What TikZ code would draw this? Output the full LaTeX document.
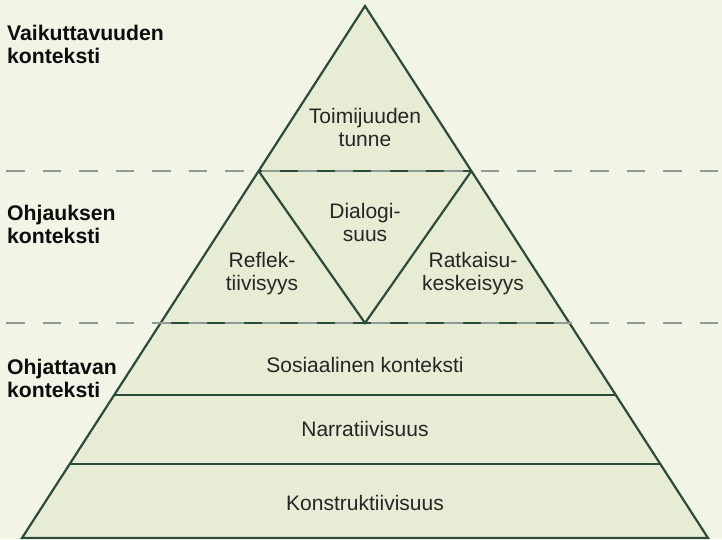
\documentclass[tikz,border=0pt]{standalone}
\usepackage{fontspec}
\setmainfont{Liberation Sans}
\usetikzlibrary{calc}

\definecolor{tausta}{HTML}{F2F4E6}
\definecolor{pinta}{HTML}{E7EDD4}
\definecolor{viiva}{HTML}{2B4B3B}
\definecolor{katko}{HTML}{8C9C94}

\tikzset{
  kerros/.style={font=\fontsize{21}{23}\selectfont, align=center, inner sep=0pt, text=black!85},
  otsikko/.style={font=\fontsize{21.2}{23}\selectfont\bfseries, align=left, inner sep=0pt, anchor=west, text=black!95},
  raja/.style={draw=viiva, line width=2.2pt, line join=miter},
  katkoviiva/.style={draw=katko, line width=2pt, dash pattern=on 18.5pt off 18pt}
}

\begin{document}
\begin{tikzpicture}[x=1pt,y=-1pt]

\fill[tausta] (0,0) rectangle (722,539);
\useasboundingbox (0,0) rectangle (722,539);

% Pyramidi
\coordinate (K) at (365,6);
\coordinate (VA) at (22,538);
\coordinate (OA) at (708,538);
	\foreach \n/\t in {a/0.3102, b/0.5959, c/0.7312, d/0.8609} {
		\coordinate (v\n) at ($(K)!\t!(VA)$);
		\coordinate (o\n) at ($(K)!\t!(OA)$);
	}
\coordinate (M) at ($(vb)!0.5!(ob)$);

\fill[pinta] (K) -- (VA) -- (OA) -- cycle;

% Rajat
	\foreach \n in {a, b, c, d}
		\draw[raja] (v\n) -- (o\n);
\draw[raja] (va) -- (M) -- (oa);
\draw[raja] (K) -- (VA) -- (OA) -- cycle;

% Kontekstien rajat
\draw[katkoviiva] (6,171) -- (722,171);
\draw[katkoviiva] (6,323) -- (722,323);

% Tekstit
\node[kerros] (toimijuus) at (365,130.4) {\strut Toimijuuden\\\strut tunne};
\node[kerros] (dialogi) at (365,224.9) {\strut Dialogi-\\\strut suus};
\node[kerros] (refleks) at (262,274.7) {\strut Reflek-\\\strut tiivisyys};
\node[kerros] (ratkaisu) at (473,274.7) {\strut Ratkaisu-\\\strut keskeisyys};
\node[kerros] (sosiaali) at (365,368.1) {\strut Sosiaalinen konteksti};
\node[kerros] (narratiivi) at (365,432.1) {\strut Narratiivisuus};
\node[kerros] (konstrukti) at (365,505.4) {\strut Konstruktiivisuus};

\node[otsikko] (vaikuttavuus) at (7,46.9) {\strut Vaikuttavuuden\\\strut konteksti};
\node[otsikko] (ohjaus) at (7,227.4) {\strut Ohjauksen\\\strut konteksti};
\node[otsikko] (ohjattava) at (7,381.2) {\strut Ohjattavan\\\strut konteksti};

\end{tikzpicture}
\end{document}
